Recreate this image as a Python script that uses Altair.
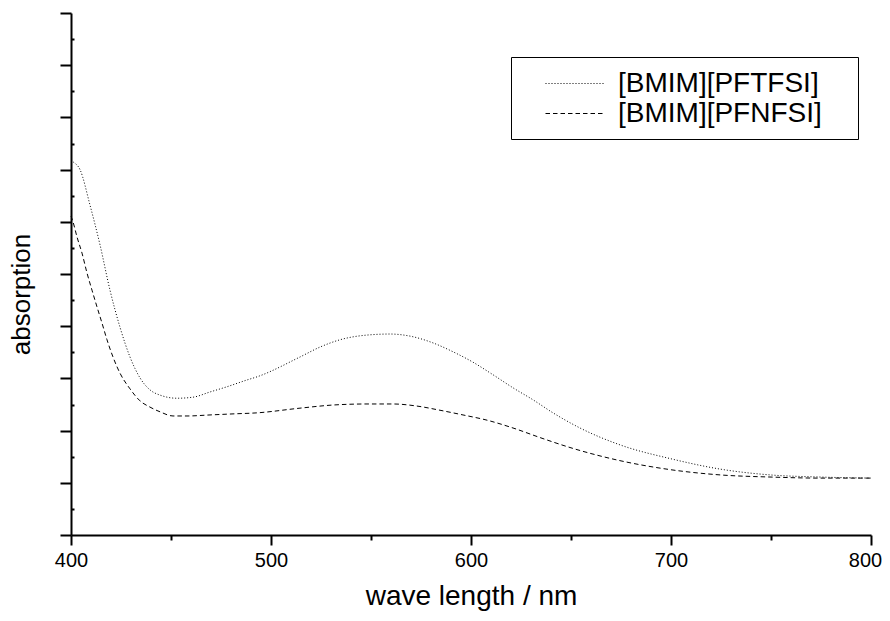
import altair as alt
import pandas as pd

series_names = ["[BMIM][PFTFSI]", "[BMIM][PFNFSI]"]

pftfsi_wl = [400, 401, 404.5, 409.5, 414.5, 419.5, 424.5, 429.5, 434.5, 439.5, 444.5, 453, 461,
             469.5, 478, 488, 493, 514.5, 524.5, 534.5, 548, 559.5, 569.5, 581, 591, 601, 611, 621,
             631, 641, 654.5, 675, 700, 725, 750, 775, 800]
pftfsi_abs = [7.18, 7.15, 7.00, 6.32, 5.56, 4.69, 3.98, 3.41, 3.01, 2.78, 2.68, 2.62, 2.64,
              2.74, 2.84, 2.97, 3.03, 3.41, 3.60, 3.74, 3.83, 3.85, 3.81, 3.68, 3.51, 3.31, 3.07, 2.82,
              2.59, 2.34, 2.05, 1.72, 1.46, 1.26, 1.15, 1.11, 1.09]

pfnfsi_wl = [400, 401, 403, 405.5, 408, 410.5, 413, 415.5, 418, 421, 424.5, 429.5, 434.5, 439.5, 444.5,
             451, 458, 469.5, 481, 493, 514.5, 531, 548, 561, 573, 584.5, 596, 608, 621, 635, 650,
             675, 700, 725, 750, 775, 800]
pfnfsi_abs = [6.11, 6.00, 5.71, 5.40, 5.02, 4.69, 4.37, 4.06, 3.74, 3.41, 3.10, 2.80, 2.57, 2.45, 2.36,
              2.28, 2.28, 2.30, 2.32, 2.34, 2.43, 2.49, 2.51, 2.51, 2.47, 2.39, 2.30, 2.20, 2.05, 1.86, 1.67,
              1.42, 1.25, 1.15, 1.11, 1.09, 1.09]

x_ticks = [400, 500, 600, 700, 800]
x_minor = [450, 550, 650, 750]
y_ticks = list(range(11))
y_minor = [i + 0.5 for i in range(10)]

df = pd.concat([
    pd.DataFrame({"wavelength": pftfsi_wl, "absorption": pftfsi_abs, "series": series_names[0]}),
    pd.DataFrame({"wavelength": pfnfsi_wl, "absorption": pfnfsi_abs, "series": series_names[1]}),
], ignore_index=True)

FONT = "Liberation Sans"

xscale = alt.Scale(domain=[400, 800], nice=False, zero=False)
yscale = alt.Scale(domain=[0, 10], nice=False, zero=False)

lines = alt.Chart(df).mark_line(color="black", strokeWidth=1, interpolate="monotone").encode(
    x=alt.X("wavelength:Q", scale=xscale,
            axis=alt.Axis(values=x_ticks, title="wave length / nm", tickSize=10, labelPadding=5,
                          labelFlush=False, labelFontSize=20, titleFontSize=28, titlePadding=12,
                          labelOffset={"condition": {"test": "datum.value === 800", "value": -6},
                                       "value": 0},
                          format="d")),
    y=alt.Y("absorption:Q", scale=yscale,
            axis=alt.Axis(values=y_ticks, labels=False, title="absorption", tickSize=11,
                          titleFontSize=26, titlePadding=25, titleY=281)),
    strokeDash=alt.StrokeDash(
        "series:N",
        scale=alt.Scale(domain=series_names, range=[[1, 2], [4.5, 3]]),
        legend=alt.Legend(
            orient="none", legendX=440, legendY=44,
            title=" ", titleOrient="right", titlePadding=25, titleFontSize=10,
            strokeColor="black", fillColor="white", padding=11,
            symbolType="M-2,0H2", symbolSize=900, symbolStrokeWidth=1,
            symbolStrokeColor="black", symbolFillColor="transparent", symbolOffset=38,
            labelOffset=27, labelFontSize=28, labelFont=FONT, labelColor="black",
            labelLimit=400, rowPadding=0,
        ),
    ),
)

minor = alt.Chart(df).mark_point(opacity=0).encode(
    x=alt.X("wavelength:Q", scale=xscale,
            axis=alt.Axis(orient="bottom", values=x_minor, labels=False, domain=False,
                          tickSize=5, title=None)),
    y=alt.Y("absorption:Q", scale=yscale,
            axis=alt.Axis(orient="left", values=y_minor, labels=False, domain=False,
                          tickSize=3, offset=-3, title=None)),
)

chart = alt.layer(lines, minor).resolve_axis(x="independent", y="independent").properties(
    width=800, height=522,
    autosize=alt.AutoSizeParams(type="none"),
    padding={"left": 63, "top": 5, "right": 11, "bottom": 78},
).configure_view(stroke=None).configure_axis(
    domainWidth=2, tickWidth=2, domainColor="black", tickColor="black",
    labelColor="black", titleColor="black", labelFont=FONT, titleFont=FONT,
    titleFontWeight="normal", grid=False,
)

chart.save("out.html", embed_options={"renderer": "svg", "actions": False})
